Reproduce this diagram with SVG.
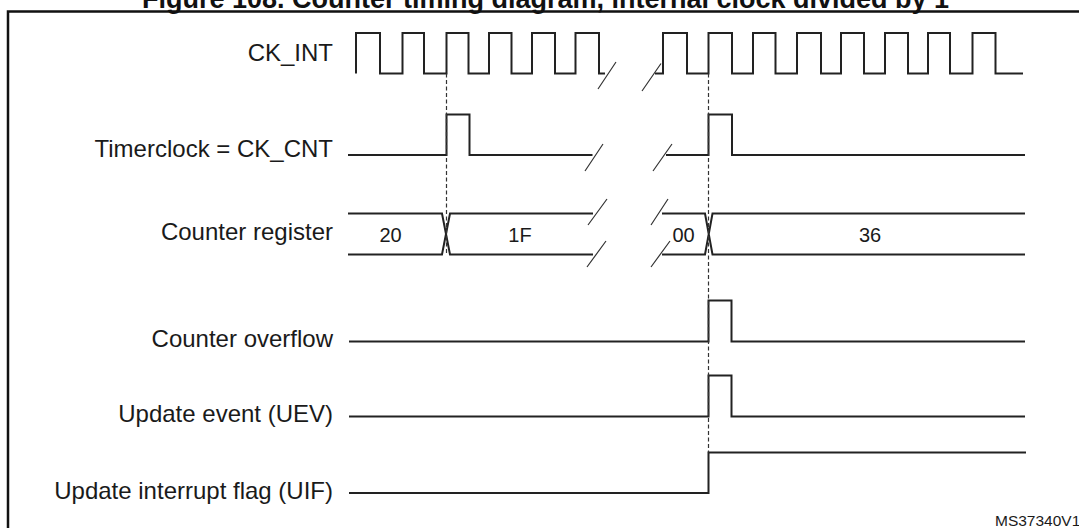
<svg xmlns="http://www.w3.org/2000/svg" width="1079" height="528" viewBox="0 0 1079 528">
<style>
.lbl{font-family:"Liberation Sans",Arial,sans-serif;font-size:24px;fill:#1a1a1a;text-anchor:end}
.val{font-family:"Liberation Sans",Arial,sans-serif;font-size:20px;fill:#1a1a1a;text-anchor:middle}
.title{font-family:"Liberation Sans",Arial,sans-serif;font-size:27px;font-weight:bold;fill:#111;text-anchor:middle}
.wave{fill:none;stroke:#222;stroke-width:2;stroke-linejoin:miter}
.brk{fill:none;stroke:#333;stroke-width:1.2}
.dash{fill:none;stroke:#333;stroke-width:1.2;stroke-dasharray:4 2.5}
</style>
<rect width="1079" height="528" fill="#fff"/>
<text class="title" x="545.5" y="8">Figure 108. Counter timing diagram, internal clock divided by 1</text>
<path d="M8,540 V11.5 H1090" fill="none" stroke="#111" stroke-width="2.5"/>
<g id="ck_int">
<text class="lbl" x="333" y="61">CK_INT</text>
<path class="wave" d="M356,73.5 V33 H380 V73.5 H402.5 V33 H424 V73.5 H446.5 V33 H468.5 V73.5 H489 V33 H511.5 V73.5 H532 V33 H555 V73.5 H575.5 V33 H599 V73.5 H605"/>
<path class="wave" d="M655,73.5 H663 V33 H687 V73.5 H708.5 V33 H732 V73.5 H753 V33 H775.5 V73.5 H797 V33 H821 V73.5 H841 V33 H864 V73.5 H885 V33 H908 V73.5 H928 V33 H950 V73.5 H972.5 V33 H995.5 V73.5 H1023"/>
<path class="brk" d="M598,89 L616,62 M642,91 L661,63.5"/>
</g>
<g id="timerclock">
<text class="lbl" x="333" y="157">Timerclock = CK_CNT</text>
<path class="wave" d="M348,155 H446.5 V114.5 H469.5 V155 H592.5"/>
<path class="wave" d="M666,155 H708.5 V114.5 H732 V155 H1025"/>
<path class="brk" d="M585,171 L603,144 M653,171 L672,144"/>
</g>
<g id="counter_register">
<text class="lbl" x="333" y="240">Counter register</text>
<path class="wave" d="M348,213.5 H442 L450,254.5 H593 M348,254.5 H442 L450,213.5 H593"/>
<path class="wave" d="M662,213.5 H705 L712.5,254.5 H1025 M662,254.5 H705 L712.5,213.5 H1025"/>
<path class="brk" d="M588,225 L607,199 M587,267 L606,241 M651,225 L668,199 M651,267 L670,241"/>
<text class="val" x="390.5" y="242">20</text>
<text class="val" x="520" y="242">1F</text>
<text class="val" x="683.5" y="242">00</text>
<text class="val" x="870" y="242">36</text>
</g>
<g id="counter_overflow">
<text class="lbl" x="333" y="347">Counter overflow</text>
<path class="wave" d="M349,341.5 H708.5 V300.5 H731.5 V341.5 H1025"/>
</g>
<g id="uev">
<text class="lbl" x="333" y="422">Update event (UEV)</text>
<path class="wave" d="M349,416.5 H708.5 V375.5 H731.5 V416.5 H1025"/>
</g>
<g id="uif">
<text class="lbl" x="333" y="499">Update interrupt flag (UIF)</text>
<path class="wave" d="M349,493 H708.5 V452.5 H1026"/>
</g>
<g id="connectors">
<path class="dash" d="M446.5,73.5 V254.5"/>
<path class="dash" d="M708.5,73.5 V452.5"/>
</g>
<text x="995" y="526" font-family="'Liberation Sans',Arial,sans-serif" font-size="15.5" fill="#1a1a1a">MS37340V1</text>
</svg>
